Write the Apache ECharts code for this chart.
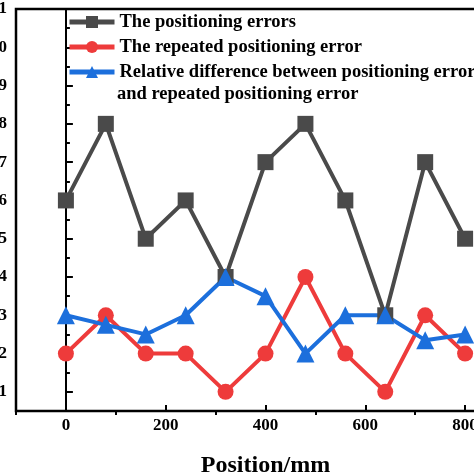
<!DOCTYPE html>
<html>
<head>
<meta charset="utf-8">
<script src="https://cdn.jsdelivr.net/npm/echarts@6/dist/echarts.min.js"></script>
<style>
html,body{margin:0;padding:0;background:#fff;}
#c{width:474px;height:474px;}
</style>
</head>
<body>
<div id="c"></div>
<script>
const positions = [0, 80, 160, 240, 320, 400, 480, 560, 640, 720, 800];
const positioningErrors = [6, 8, 5, 6, 4, 7, 8, 6, 3, 7, 5];
const repeatedErrors = [2, 3, 2, 2, 1, 2, 4, 2, 1, 3, 2];
const relativeDiff = [3, 2.75, 2.5, 3, 4, 3.5, 2, 3, 3, 2.35, 2.5];
const seriesNames = [
  'The positioning errors',
  'The repeated positioning error',
  'Relative difference between positioning error\nand repeated positioning error'
];
const xTitle = 'Position/mm';

const pair = (ys) => positions.map((x, i) => [x, ys[i]]);
const font = 'Liberation Serif';
const colors = ['#4a4a4a', '#ee3b3b', '#1c6fdc'];

const chart = echarts.init(document.getElementById('c'));
chart.setOption({
  animation: false,
  backgroundColor: '#fff',
  grid: { left: 16, top: 9, right: -41, bottom: 63, outerBoundsMode: 'none', containLabel: false,
    show: true, borderColor: '#000', borderWidth: 2.5, backgroundColor: 'transparent' },
  legend: {
    orient: 'vertical', left: 62, top: 5, itemWidth: 45, itemHeight: 15, itemGap: 1,
    lineStyle: { width: 5 },
    textStyle: { fontFamily: font, fontWeight: 'bold', fontSize: 18.5, color: '#000', lineHeight: 24 },
    formatter: (n) => n.split('\n')[0],
    data: seriesNames
  },
  graphic: [{
    type: 'text', left: 117, top: 85,
    style: { text: seriesNames[2].split('\n')[1], font: 'bold 18.5px "Liberation Serif"', fill: '#000' }
  }],
  xAxis: [{
    type: 'value', min: -100, max: 900, splitNumber: 5,
    axisLine: { lineStyle: { color: '#000', width: 2 } },
    axisTick: { inside: true, length: 6, lineStyle: { color: '#000', width: 2 } },
    splitLine: { show: false },
    axisLabel: { margin: 6, fontFamily: font, fontWeight: 'bold', fontSize: 17, color: '#000',
      formatter: (v) => (v % 200 === 0 && v >= 0 && v <= 800) ? String(v) : '' },
    name: xTitle, nameLocation: 'middle', nameGap: 43,
    nameTextStyle: { fontFamily: font, fontWeight: 'bold', fontSize: 24, color: '#000' }
  }, {
    type: 'value', position: 'bottom', min: -100, max: 900, interval: 200,
    axisLine: { show: false },
    axisTick: { inside: false, length: 4, lineStyle: { color: '#000', width: 2 } },
    axisLabel: { show: false }, splitLine: { show: false }
  }],
  yAxis: {
    type: 'value', min: 0.5, max: 11, splitNumber: 10, minInterval: 1, maxInterval: 1,
    axisLine: { show: true, lineStyle: { color: '#000', width: 2 } },
    axisTick: { show: true, inside: true, length: 7, lineStyle: { color: '#000', width: 2 } },
    minorTick: { show: true, splitNumber: 2, length: 4, lineStyle: { color: '#000', width: 2 } },
    splitLine: { show: false },
    axisLabel: { margin: 9, fontFamily: font, fontWeight: 'bold', fontSize: 17, color: '#000',
      formatter: (v) => Number.isInteger(v) ? String(v) : '' }
  },
  series: [
    { name: seriesNames[0], type: 'line', data: pair(positioningErrors), symbol: 'rect', symbolSize: 16,
      itemStyle: { color: colors[0] }, lineStyle: { color: colors[0], width: 4 } },
    { name: seriesNames[1], type: 'line', data: pair(repeatedErrors), symbol: 'circle', symbolSize: 16,
      itemStyle: { color: colors[1] }, lineStyle: { color: colors[1], width: 4 } },
    { name: seriesNames[2], type: 'line', data: pair(relativeDiff), symbol: 'triangle', symbolSize: 18,
      itemStyle: { color: colors[2] }, lineStyle: { color: colors[2], width: 4 } }
  ]
});
</script>
</body>
</html>
